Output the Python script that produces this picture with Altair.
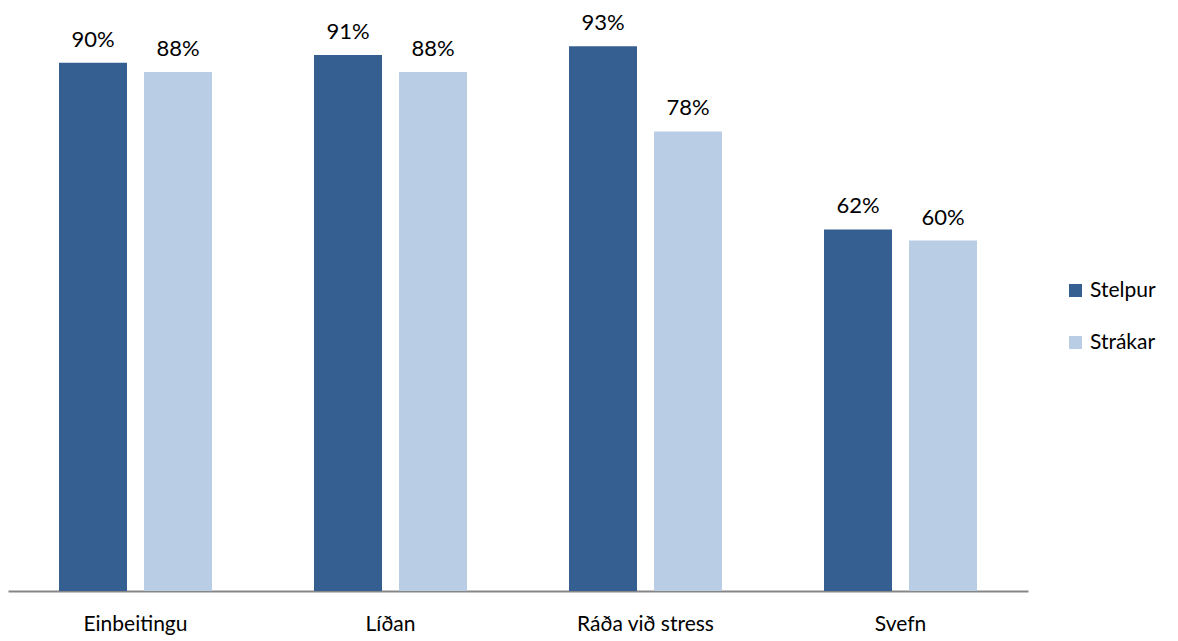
import altair as alt
import pandas as pd

categories = ["Einbeitingu", "Líðan", "Ráða við stress", "Svefn"]
series = ["Stelpur", "Strákar"]
stelpur = [0.900, 0.913, 0.928, 0.616]
strakar = [0.884, 0.884, 0.783, 0.597]
colors = ["#365F91", "#B9CDE5"]

rows = []
for c, a, b in zip(categories, stelpur, strakar):
    rows.append({"cat": c, "series": "Stelpur", "value": a})
    rows.append({"cat": c, "series": "Strákar", "value": b})
df = pd.DataFrame(rows)

FONT = "Lato"

x = alt.X("cat:N", sort=categories, title=None,
          scale=alt.Scale(paddingInner=0.4, paddingOuter=0.2),
          axis=alt.Axis(labelAngle=0, labelFontSize=21, labelFont=FONT, labelColor="#000000",
                        domainColor="#868686", domainWidth=2, ticks=False, labelPadding=22))
xo = alt.XOffset("series:N", sort=series, scale=alt.Scale(paddingInner=0.2, paddingOuter=0))
y = alt.Y("value:Q", scale=alt.Scale(domain=[0, 1]), axis=None)

bars = alt.Chart(df).mark_bar().encode(
    x=x, xOffset=xo, y=y,
    color=alt.Color("series:N", sort=series, scale=alt.Scale(domain=series, range=colors),
                    legend=alt.Legend(title=None, orient="none", legendX=1057, legendY=276,
                                      symbolType="square", symbolSize=170, symbolStrokeWidth=0,
                                      labelFontSize=21, labelFont=FONT, labelColor="#000000",
                                      rowPadding=30, symbolOpacity=1)),
)

labels = alt.Chart(df).mark_text(baseline="bottom", dy=-11, fontSize=22, font=FONT, color="#000000").encode(
    x=alt.X("cat:N", sort=categories), xOffset=alt.XOffset("series:N", sort=series), y=y,
    text=alt.Text("value:Q", format=".0%"),
)

chart = (bars + labels).properties(
    width=1020, height=587,
    background="#ffffff",
    autosize=alt.AutoSizeParams(type="none"),
    padding={"left": 8, "top": 4, "right": 150, "bottom": 50},
).configure_view(stroke=None)

chart.save("out.html", embed_options={"renderer": "svg", "actions": False})
